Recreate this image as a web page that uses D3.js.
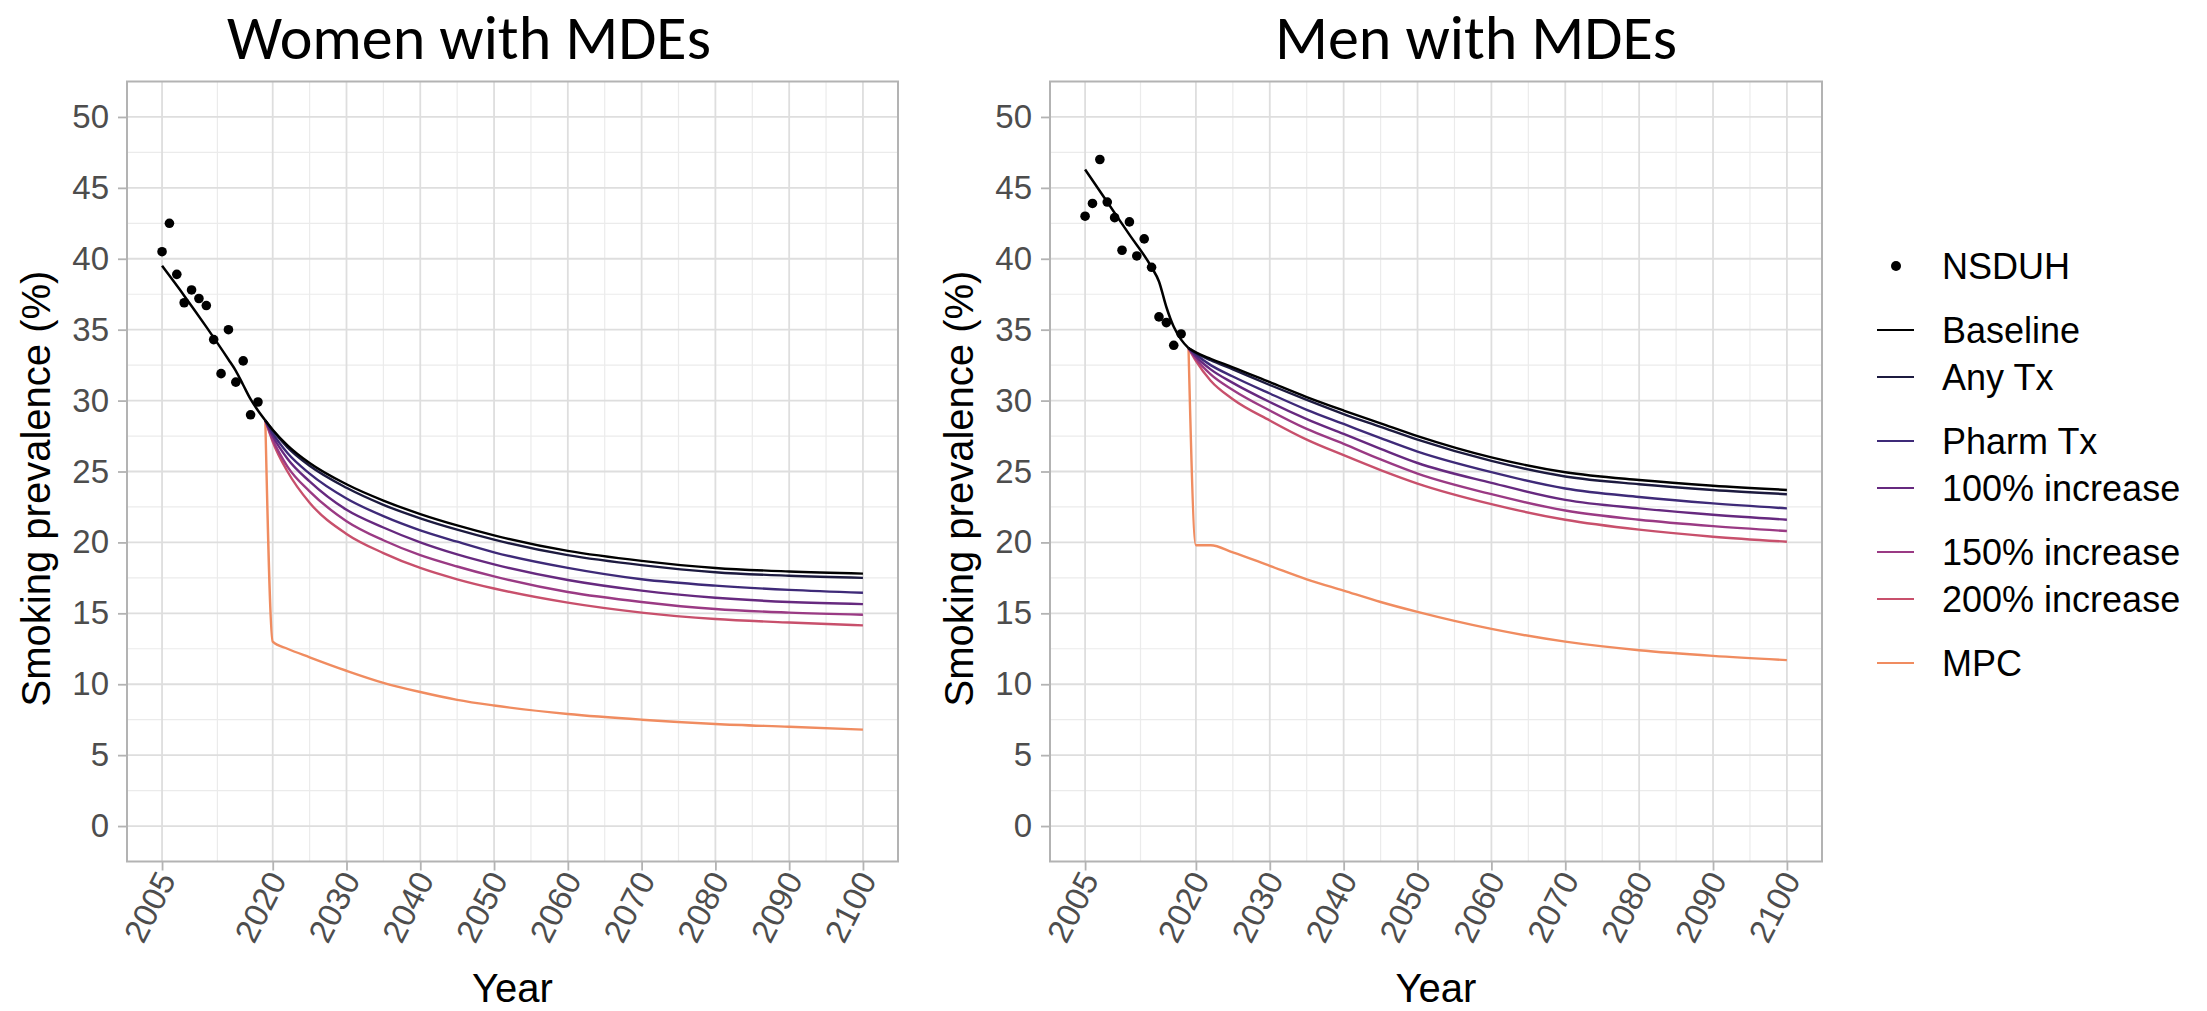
<!DOCTYPE html>
<html>
<head>
<meta charset="utf-8">
<script src="https://cdn.jsdelivr.net/npm/d3@7"></script>
<style>
  body { margin: 0; background: #fff; }
  svg { display: block; font-family: "Liberation Sans", Arial, sans-serif; }
</style>
</head>
<body>
<svg id="chart" width="2207" height="1011"></svg>
<script>
// ---- data ----
var surveyYears = [2005, 2006, 2007, 2008, 2009, 2010, 2011, 2012, 2013, 2014, 2015, 2016, 2017, 2018];
var womenSurvey = [40.5, 42.5, 38.9, 36.9, 37.8, 37.2, 36.7, 34.3, 31.9, 35.0, 31.3, 32.8, 29.0, 29.9];
var menSurvey   = [43.0, 43.9, 47.0, 44.0, 42.9, 40.6, 42.6, 40.2, 41.4, 39.4, 35.9, 35.5, 33.9, 34.7];

var histYears = [2005, 2008, 2011, 2014, 2015, 2016, 2017, 2018, 2019];
var womenHist = [39.5, 37.4, 35.2, 32.9, 32.1, 31.1, 30.1, 29.3, 28.6];
var menHist   = [46.3, 44.0, 41.7, 39.4, 38.4, 36.6, 35.2, 34.3, 33.7];

var projYears = [2019, 2020, 2022, 2025, 2030, 2035, 2040, 2045, 2050, 2060, 2070, 2080, 2090, 2100];

var scenarios = ["Baseline", "Any Tx", "Pharm Tx", "100% increase", "150% increase", "200% increase", "MPC"];
var scenarioColors = ["#000000", "#1c1a3f", "#3e2a78", "#66297f", "#9a3a84", "#c8506c", "#f08c60"];

var womenProj = [
  [28.6, 27.95, 26.85, 25.6, 24.1, 22.95, 22.0, 21.2, 20.5, 19.4, 18.7, 18.2, 17.95, 17.8],
  [28.6, 27.9, 26.7, 25.4, 23.85, 22.65, 21.7, 20.9, 20.2, 19.1, 18.4, 17.9, 17.65, 17.5],
  [28.6, 27.7, 26.3, 24.85, 23.1, 21.85, 20.85, 20.05, 19.3, 18.2, 17.4, 16.95, 16.65, 16.45],
  [28.6, 27.5, 25.9, 24.3, 22.3, 21.05, 20.0, 19.15, 18.45, 17.35, 16.6, 16.1, 15.8, 15.65],
  [28.6, 27.25, 25.35, 23.6, 21.5, 20.15, 19.1, 18.3, 17.6, 16.5, 15.8, 15.3, 15.05, 14.9],
  [28.6, 27.1, 25.0, 22.8, 20.6, 19.25, 18.2, 17.4, 16.75, 15.75, 15.05, 14.6, 14.35, 14.15],
  [28.6, 13.0, 12.5, 11.9, 10.95, 10.1, 9.45, 8.9, 8.5, 7.9, 7.5, 7.2, 7.0, 6.8]
];
var menProj = [
  [33.7, 33.4, 32.95, 32.35, 31.3, 30.25, 29.3, 28.4, 27.5, 26.0, 24.95, 24.4, 24.0, 23.7],
  [33.7, 33.35, 32.85, 32.2, 31.1, 30.05, 29.05, 28.15, 27.25, 25.75, 24.65, 24.1, 23.7, 23.4],
  [33.7, 33.25, 32.5, 31.7, 30.5, 29.35, 28.35, 27.35, 26.4, 24.95, 23.8, 23.2, 22.75, 22.4],
  [33.7, 33.1, 32.2, 31.25, 29.9, 28.7, 27.65, 26.6, 25.6, 24.2, 23.0, 22.4, 21.95, 21.6],
  [33.7, 32.95, 31.85, 30.75, 29.3, 28.0, 26.95, 25.85, 24.85, 23.4, 22.25, 21.6, 21.15, 20.8],
  [33.7, 32.8, 31.4, 30.1, 28.6, 27.25, 26.15, 25.1, 24.15, 22.7, 21.6, 20.9, 20.4, 20.05],
  [33.7, 19.8, 19.8, 19.3, 18.35, 17.4, 16.6, 15.8, 15.1, 13.9, 13.0, 12.4, 12.0, 11.7]
];

var xBreaks = [2005, 2020, 2030, 2040, 2050, 2060, 2070, 2080, 2090, 2100];
var yBreaks = [0, 5, 10, 15, 20, 25, 30, 35, 40, 45, 50];

// ---- layout ----
var svg = d3.select("#chart");
var panelTop = 81.5, panelBottom = 861.5, tickLen = 9;
var panels = [
  { title: "Women with MDEs", titleX: 469, left: 127, right: 898, survey: womenSurvey, hist: womenHist, proj: womenProj },
  { title: "Men with MDEs", titleX: 1476, left: 1050, right: 1822, survey: menSurvey, hist: menHist, proj: menProj }
];

var y = d3.scaleLinear().domain([-2.5, 52.5]).range([panelBottom, panelTop]);

// minor breaks sit halfway between the major ones
function midpoints(b) {
  var m = [];
  for (var i = 0; i < b.length - 1; i++) m.push((b[i] + b[i + 1]) / 2);
  return m;
}

panels.forEach(function(p) {
  var x = d3.scaleLinear().domain([2000.25, 2104.75]).range([p.left, p.right]);
  var g = svg.append("g");

  // grid
  g.selectAll(".yminor").data(midpoints(yBreaks)).enter().append("line")
    .attr("x1", p.left).attr("x2", p.right)
    .attr("y1", function(d) { return y(d); }).attr("y2", function(d) { return y(d); })
    .attr("stroke", "#ebebeb").attr("stroke-width", 1.2);
  g.selectAll(".xminor").data(midpoints(xBreaks)).enter().append("line")
    .attr("y1", panelTop).attr("y2", panelBottom)
    .attr("x1", function(d) { return x(d); }).attr("x2", function(d) { return x(d); })
    .attr("stroke", "#ebebeb").attr("stroke-width", 1.2);
  g.selectAll(".ymajor").data(yBreaks).enter().append("line")
    .attr("x1", p.left).attr("x2", p.right)
    .attr("y1", function(d) { return y(d); }).attr("y2", function(d) { return y(d); })
    .attr("stroke", "#dedede").attr("stroke-width", 1.8);
  g.selectAll(".xmajor").data(xBreaks).enter().append("line")
    .attr("y1", panelTop).attr("y2", panelBottom)
    .attr("x1", function(d) { return x(d); }).attr("x2", function(d) { return x(d); })
    .attr("stroke", "#dedede").attr("stroke-width", 1.8);

  // axes
  var yAxis = d3.axisLeft(y).tickValues(yBreaks).tickSize(tickLen).tickPadding(9);
  var ya = g.append("g").attr("transform", "translate(" + p.left + ",0)").call(yAxis);
  var xAxis = d3.axisBottom(x).tickValues(xBreaks).tickFormat(d3.format("d")).tickSize(tickLen);
  var xa = g.append("g").attr("transform", "translate(0," + panelBottom + ")").call(xAxis);
  [ya, xa].forEach(function(a) {
    a.select(".domain").remove();
    a.selectAll(".tick line").attr("stroke", "#b3b3b3").attr("stroke-width", 1.8);
    a.selectAll(".tick text").attr("fill", "#4d4d4d").style("font-size", "33px");
  });
  xa.selectAll(".tick text")
    .attr("y", 0).attr("dy", null)
    .attr("text-anchor", "end")
    .attr("transform", "translate(14,18) rotate(-63)");

  // lines
  var line = d3.line()
    .x(function(d) { return x(d[0]); })
    .y(function(d) { return y(d[1]); })
    .curve(d3.curveMonotoneX);

  var series = p.proj.map(function(vals, i) {
    return { name: scenarios[i], color: scenarioColors[i], pts: d3.zip(projYears, vals) };
  });
  g.selectAll(".proj").data(series.slice().reverse()).enter().append("path")
    .attr("d", function(d) { return line(d.pts); })
    .attr("fill", "none")
    .attr("stroke", function(d) { return d.color; })
    .attr("stroke-width", 2.4);

  g.append("path")
    .attr("d", line(d3.zip(histYears, p.hist)))
    .attr("fill", "none").attr("stroke", "#000").attr("stroke-width", 2.5);

  g.selectAll(".dot").data(d3.zip(surveyYears, p.survey)).enter().append("circle")
    .attr("cx", function(d) { return x(d[0]); })
    .attr("cy", function(d) { return y(d[1]); })
    .attr("r", 4.8).attr("fill", "#000");

  // panel border
  g.append("rect")
    .attr("x", p.left).attr("y", panelTop)
    .attr("width", p.right - p.left).attr("height", panelBottom - panelTop)
    .attr("fill", "none").attr("stroke", "#b3b3b3").attr("stroke-width", 2);

  // titles
  svg.append("text")
    .attr("x", p.titleX).attr("y", 59)
    .attr("text-anchor", "middle")
    .style("font-family", "Carlito, 'Liberation Sans', Arial, sans-serif")
    .style("font-size", "62px")
    .text(p.title);
  svg.append("text")
    .attr("x", (p.left + p.right) / 2).attr("y", 1002)
    .attr("text-anchor", "middle")
    .style("font-size", "40px")
    .text("Year");
  svg.append("text")
    .attr("transform", "translate(" + (p.left - 77) + "," + ((panelTop + panelBottom) / 2 + 17) + ") rotate(-90)")
    .attr("text-anchor", "middle")
    .style("font-size", "40px")
    .text("Smoking prevalence (%)");
});

// ---- legend ----
var legendItems = [{ name: "NSDUH", dot: true, group: 0 }].concat(scenarios.map(function(s, i) {
  return { name: s, color: scenarioColors[i], group: [1, 1, 2, 2, 3, 3, 4][i] };
}));
var lg = svg.append("g").attr("transform", "translate(1877,266)");
var item = lg.selectAll(".item").data(legendItems).enter().append("g")
  .attr("transform", function(d, i) { return "translate(0," + (i * 47 + d.group * 17) + ")"; });
item.filter(function(d) { return d.dot; }).append("circle")
  .attr("cx", 19).attr("cy", 0).attr("r", 5).attr("fill", "#000");
item.filter(function(d) { return !d.dot; }).append("line")
  .attr("x1", 0).attr("x2", 37).attr("y1", 0).attr("y2", 0)
  .attr("stroke", function(d) { return d.color; }).attr("stroke-width", 2);
item.append("text")
  .attr("x", 65).attr("dy", "0.36em")
  .style("font-size", "36px")
  .text(function(d) { return d.name; });
</script>
</body>
</html>
